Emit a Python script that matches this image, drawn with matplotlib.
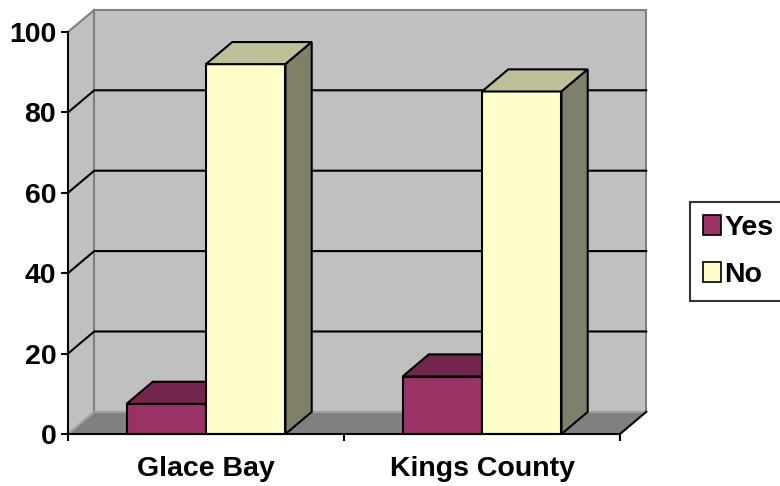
import matplotlib
matplotlib.use("Agg")
import matplotlib.pyplot as plt
from matplotlib.patches import Polygon, Patch

# Data
categories = ["Glace Bay", "Kings County"]
series_names = ["Yes", "No"]
yes_values = [7.5, 14.3]
no_values = [92.0, 85.2]
y_ticks = [0, 20, 40, 60, 80, 100]

# Colours (front, top, side) for each series
yes_colors = ("#993366", "#73264D", "#4D1A33")
no_colors = ("#FFFFCC", "#BFBF99", "#80806A")
wall_color = "#C0C0C0"
floor_color = "#808080"
edge_grey = "#808080"

plt.rcParams["font.family"] = ["Liberation Sans", "DejaVu Sans"]
plt.rcParams["font.weight"] = "bold"

fig = plt.figure(figsize=(7.8, 4.86), dpi=100)
fig.patch.set_facecolor("white")
ax = fig.add_axes([68 / 780, 52 / 486, 552 / 780, 402 / 486])
ax.patch.set_visible(False)

n = len(categories)
ax.set_xlim(0, n)
ax.set_ylim(0, 100)

# depth of the 3-D box in data units
dx, dy = 0.095, 5.5
bar_w = 0.288
lw = 1.5
fs = 20.5


def poly(pts, face, edge="black", lwidth=lw, z=1):
    p = Polygon(pts, closed=True, facecolor=face, edgecolor=edge,
                linewidth=lwidth, clip_on=False, zorder=z, joinstyle="miter")
    ax.add_patch(p)


ymax = y_ticks[-1]
# left wall, back wall and floor
poly([(0, 0), (dx, dy), (dx, ymax + dy), (0, ymax)], wall_color, edge="none", z=0.5)
poly([(dx, dy), (n + dx, dy), (n + dx, ymax + dy), (dx, ymax + dy)], wall_color,
     edge=edge_grey, lwidth=1.5, z=0.6)
poly([(0, 0), (n, 0), (n + dx, dy), (dx, dy)], floor_color, edge="none", z=0.7)

# gridlines on walls
for v in y_ticks[1:-1]:
    ax.plot([0, dx, n + dx], [v, v + dy, v + dy], color="black", lw=lw,
            clip_on=False, zorder=0.8, solid_joinstyle="miter")
ax.plot([0, dx], [ymax, ymax + dy], color=edge_grey, lw=1.5, clip_on=False, zorder=0.8)
ax.plot([0, dx], [0, dy], color="#A0A0A0", lw=1.5, clip_on=False, zorder=0.8)
ax.plot([dx, n + dx], [dy, dy], color="#A0A0A0", lw=1.5, clip_on=False, zorder=0.8)
ax.plot([n, n + dx], [0, dy], color="black", lw=lw, clip_on=False, zorder=0.9)


def bar3d(x0, h, colors):
    front, top, side = colors
    x1 = x0 + bar_w
    poly([(x0, 0), (x1, 0), (x1, h), (x0, h)], front, z=2)
    poly([(x0, h), (x1, h), (x1 + dx, h + dy), (x0 + dx, h + dy)], top, z=2)
    poly([(x1, 0), (x1 + dx, dy), (x1 + dx, h + dy), (x1, h)], side, z=2)


for i in range(n):
    c = i + 0.5
    bar3d(c - bar_w, yes_values[i], yes_colors)
    bar3d(c, no_values[i], no_colors)

# axes
for s in ("top", "right"):
    ax.spines[s].set_visible(False)
for s in ("left", "bottom"):
    ax.spines[s].set_linewidth(lw)
    ax.spines[s].set_zorder(3)

ax.set_yticks(y_ticks)
ax.set_yticklabels([str(t) for t in y_ticks], fontsize=fs, fontweight="bold")
ax.tick_params(axis="y", length=5, width=lw, pad=3.5)

ax.set_xticks(range(n + 1))
ax.set_xticklabels([])
ax.tick_params(axis="x", which="major", length=5, width=lw)
ax.set_xticks([i + 0.5 for i in range(n)], minor=True)
ax.set_xticklabels(categories, minor=True, fontsize=fs, fontweight="bold")
ax.tick_params(axis="x", which="minor", length=0, pad=16)

handles = [Patch(facecolor=yes_colors[0], edgecolor="black", linewidth=1.2, label=series_names[0]),
           Patch(facecolor=no_colors[0], edgecolor="black", linewidth=1.2, label=series_names[1])]
leg = fig.legend(handles=handles, loc="center left", bbox_to_anchor=(690 / 780, 234.5 / 486),
                 fontsize=fs, frameon=True, fancybox=False, handlelength=0.65,
                 handleheight=0.7, handletextpad=0.1, borderpad=0.45,
                 labelspacing=0.75, borderaxespad=0)
leg.get_frame().set_edgecolor("black")
leg.get_frame().set_linewidth(1.5)
for t in leg.get_texts():
    t.set_fontweight("bold")

fig.savefig("out.png", dpi=100)
